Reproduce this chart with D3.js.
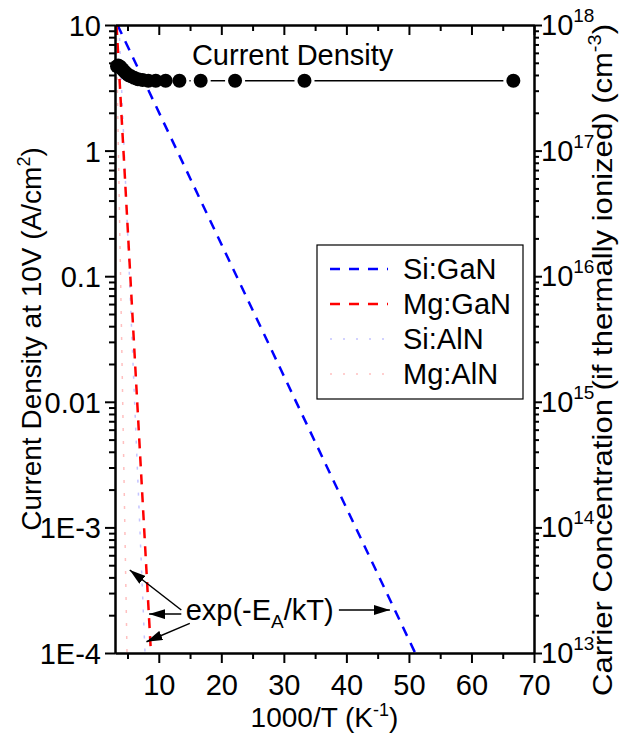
<!DOCTYPE html>
<html>
<head>
<meta charset="utf-8">
<script src="https://cdn.jsdelivr.net/npm/d3@7"></script>
<style>
  body { margin: 0; background: #fff; }
  svg text { font-family: "Liberation Sans", Arial, sans-serif; fill: #000; }
</style>
</head>
<body>
<div id="chart"></div>
<script>
// current density at 10V vs 1000/T (T from 300 K down to 15 K in 15 K steps)
const cdX = [3.33, 3.51, 3.70, 3.92, 4.17, 4.44, 4.76, 5.13, 5.56, 6.06, 6.67, 7.41, 8.33, 9.52, 11.1, 13.3, 16.7, 22.2, 33.3, 66.7];
const cdY = [4.7, 4.75, 4.7, 4.6, 4.45, 4.3, 4.15, 4.0, 3.9, 3.8, 3.7, 3.65, 3.6, 3.6, 3.6, 3.6, 3.6, 3.6, 3.6, 3.6];

// exp(-EA/kT) lines, end points [1000/T, value]
const siGaN = [[3.4, 10], [51, 1e-4]];
const mgGaN = [[3.25, 10], [8.75, 1e-4]];
const siAlN = [[3.64, 10], [7.8, 1e-4]];
const mgAlN = [[3.2, 10], [4.92, 1e-4]];

const legendNames = ["Si:GaN", "Mg:GaN", "Si:AlN", "Mg:AlN"];
const xTicks = [10, 20, 30, 40, 50, 60, 70];
const yTicks = [10, 1, 0.1, 0.01, 1e-3, 1e-4];
const yTickLabels = ["10", "1", "0.1", "0.01", "1E-3", "1E-4"];
const rTicks = [1e13, 1e14, 1e15, 1e16, 1e17, 1e18];
const rTickExp = ["13", "14", "15", "16", "17", "18"];

// annotation arrows [tail, tip] in data units
const arrows = [
  [[13.6, 2.2e-4], [5.36, 4.58e-4]],
  [[13.6, 2.04e-4], [8.45, 2.04e-4]],
  [[14.96, 1.72e-4], [8.03, 1.23e-4]],
  [[38.8, 2.2e-4], [46.96, 2.2e-4]]
];

const margin = { top: 25, right: 86, bottom: 81, left: 115 };
const W = 620, H = 734;
const width = W - margin.left - margin.right;
const height = H - margin.top - margin.bottom;

const svg = d3.select("#chart").append("svg")
  .attr("width", W).attr("height", H);

const defs = svg.append("defs");
defs.append("clipPath").attr("id", "plotClip")
  .append("rect").attr("width", width).attr("height", height);
defs.append("marker")
  .attr("id", "arrowHead")
  .attr("markerUnits", "userSpaceOnUse")
  .attr("viewBox", "0 0 16 10")
  .attr("refX", 16).attr("refY", 5)
  .attr("markerWidth", 16).attr("markerHeight", 10)
  .attr("orient", "auto")
  .append("path").attr("d", "M0,0 L16,5 L0,10 Z").attr("fill", "#000");

const g = svg.append("g").attr("transform", `translate(${margin.left},${margin.top})`);

const x = d3.scaleLinear().domain([3, 70]).range([0, width]);
const y = d3.scaleLog().domain([1e-4, 10]).range([height, 0]);
const yR = d3.scaleLog().domain([1e13, 1e18]).range([height, 0]);

const minorX = d3.range(5, 70, 10);
const minorY = y.ticks().filter(v => !yTicks.some(t => Math.abs(t - v) / t < 1e-6));
const minorR = yR.ticks().filter(v => !rTicks.some(t => Math.abs(t - v) / t < 1e-6));

const fontSize = 29;

// exp lines
const line = d3.line().x(d => x(d[0])).y(d => y(d[1]));
const plot = g.append("g").attr("clip-path", "url(#plotClip)");
const lineStyles = [
  { data: siAlN, color: "#c4c4ff", width: 1.5, dash: "3,10" },
  { data: mgAlN, color: "#ffc0c0", width: 1.5, dash: "3,10" },
  { data: siGaN, color: "#0000ff", width: 2.5, dash: "10,8" },
  { data: mgGaN, color: "#ff0000", width: 2.5, dash: "10,8" }
];
lineStyles.forEach(s => {
  plot.append("path").datum(s.data)
    .attr("d", line)
    .attr("fill", "none")
    .attr("stroke", s.color)
    .attr("stroke-width", s.width)
    .attr("stroke-dasharray", s.dash);
});

// current density connecting line with gaps around the symbols
const r = 7, gap = 3;
const pts = cdX.map((v, i) => [x(v), y(cdY[i])]);
for (let i = 0; i < pts.length - 1; i++) {
  const [x1, y1] = pts[i], [x2, y2] = pts[i + 1];
  const d = Math.hypot(x2 - x1, y2 - y1);
  if (d <= 2 * (r + gap)) continue;
  const ux = (x2 - x1) / d, uy = (y2 - y1) / d;
  g.append("line")
    .attr("x1", x1 + ux * (r + gap)).attr("y1", y1 + uy * (r + gap))
    .attr("x2", x2 - ux * (r + gap)).attr("y2", y2 - uy * (r + gap))
    .attr("stroke", "#000").attr("stroke-width", 1.5);
}
g.selectAll(".cd").data(pts).enter().append("circle")
  .attr("cx", d => d[0]).attr("cy", d => d[1])
  .attr("r", r).attr("fill", "#000");

g.append("text")
  .attr("x", x(15.3)).attr("y", y(4.8))
  .attr("font-size", fontSize)
  .text("Current Density");

// axes
const axisW = 2;
const axBottom = g.append("g").attr("transform", `translate(0,${height})`);
axBottom.call(d3.axisBottom(x).tickValues(xTicks).tickSize(10).tickSizeOuter(0).tickPadding(6));
axBottom.append("g").call(d3.axisBottom(x).tickValues(minorX).tickSize(6).tickSizeOuter(0).tickFormat(""));

const axTop = g.append("g");
axTop.call(d3.axisTop(x).tickValues(xTicks).tickSize(-10).tickSizeOuter(0).tickFormat(""));
axTop.append("g").call(d3.axisTop(x).tickValues(minorX).tickSize(-6).tickSizeOuter(0).tickFormat(""));

const axLeft = g.append("g");
axLeft.call(d3.axisLeft(y).tickValues(yTicks).tickSize(10).tickSizeOuter(0).tickPadding(4)
  .tickFormat((d, i) => yTickLabels[i]));
axLeft.append("g").call(d3.axisLeft(y).tickValues(minorY).tickSize(6).tickSizeOuter(0).tickFormat(""));

const axRight = g.append("g").attr("transform", `translate(${width},0)`);
axRight.call(d3.axisRight(yR).tickValues(rTicks).tickSize(8).tickSizeOuter(0).tickFormat(""));
axRight.append("g").call(d3.axisRight(yR).tickValues(minorR).tickSize(5).tickSizeOuter(0).tickFormat(""));

[axBottom, axTop, axLeft, axRight].forEach(a => {
  a.selectAll("path.domain").attr("stroke-width", axisW);
  a.selectAll("line").attr("stroke-width", axisW);
  a.selectAll("text").attr("font-size", fontSize).attr("font-family", "Liberation Sans, Arial, sans-serif");
});
axLeft.selectAll(".tick text").attr("dy", "0.36em");
axBottom.selectAll(".tick text").attr("dy", "0.9em");

axRight.selectAll(".rlab").data(rTicks).enter().append("text")
  .attr("class", "rlab")
  .attr("x", 7).attr("y", d => yR(d) + 10)
  .attr("font-size", fontSize)
  .each(function (d, i) {
    const t = d3.select(this);
    t.append("tspan").text("10");
    t.append("tspan").attr("font-size", 19).attr("dy", -13).text(rTickExp[i]);
  });

// axis titles
svg.append("text")
  .attr("x", margin.left + x(36.5)).attr("y", 727)
  .attr("text-anchor", "middle").attr("font-size", 28)
  .each(function () {
    const t = d3.select(this);
    t.append("tspan").text("1000/T (K");
    t.append("tspan").attr("font-size", 18).attr("dy", -11).text("-1");
    t.append("tspan").attr("dy", 11).text(")");
  });

svg.append("text")
  .attr("transform", `translate(41,${margin.top + height / 2}) rotate(-90)`)
  .attr("text-anchor", "middle").attr("font-size", 28)
  .each(function () {
    const t = d3.select(this);
    t.append("tspan").text("Current Density at 10V (A/cm");
    t.append("tspan").attr("font-size", 18).attr("dy", -11).text("2");
    t.append("tspan").attr("dy", 11).text(")");
  });

svg.append("text")
  .attr("transform", "translate(612,360) rotate(-90)")
  .attr("text-anchor", "middle").attr("font-size", 28)
  .attr("textLength", 672).attr("lengthAdjust", "spacingAndGlyphs")
  .each(function () {
    const t = d3.select(this);
    t.append("tspan").text("Carrier Concentration (if thermally ionized) (cm");
    t.append("tspan").attr("font-size", 18).attr("dy", -11).text("-3");
    t.append("tspan").attr("dy", 11).text(")");
  });

// legend
const lg = g.append("g").attr("transform", "translate(202,220)");
lg.append("rect").attr("width", 206).attr("height", 154)
  .attr("fill", "#fff").attr("stroke", "#000").attr("stroke-width", 1.2);
const legendStyles = [lineStyles[2], lineStyles[3], lineStyles[0], lineStyles[1]];
legendNames.forEach((name, i) => {
  const ly = 24 + i * 35;
  lg.append("line").attr("x1", 13).attr("x2", 71).attr("y1", ly).attr("y2", ly)
    .attr("stroke", legendStyles[i].color)
    .attr("stroke-width", legendStyles[i].width)
    .attr("stroke-dasharray", i < 2 ? "10,9" : "2,11");
  lg.append("text").attr("x", 86).attr("y", ly + 10)
    .attr("font-size", fontSize).text(name);
});

// annotation
arrows.forEach(a => {
  g.append("line")
    .attr("x1", x(a[0][0])).attr("y1", y(a[0][1]))
    .attr("x2", x(a[1][0])).attr("y2", y(a[1][1]))
    .attr("stroke", "#000").attr("stroke-width", 1.5)
    .attr("marker-end", "url(#arrowHead)");
});
g.append("text")
  .attr("x", x(14.3)).attr("y", y(1.83e-4))
  .attr("font-size", fontSize)
  .each(function () {
    const t = d3.select(this);
    t.append("tspan").text("exp(-E");
    t.append("tspan").attr("font-size", 19).attr("dy", 8).text("A");
    t.append("tspan").attr("dy", -8).text("/kT)");
  });
</script>
</body>
</html>
